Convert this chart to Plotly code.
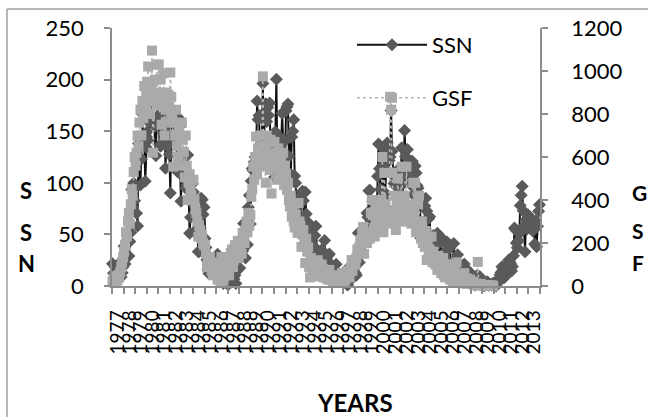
import plotly.graph_objects as go

# Year labels along the category axis
years = list(range(1977, 2014))

# Monthly sunspot number (left axis), Jan 1977 .. Dec 2013
ssn = [
    21.6, 12.4, 7.8, 18.0, 5.6, 16.3, 13.9,
    16.4, 23.1, 8.7, 12.9, 18.6, 38.5, 21.4, 30.1, 44.0, 43.8, 29.1, 43.2,
    51.9, 93.6, 76.5, 99.7, 82.7, 95.1, 70.4, 58.1, 138.2, 125.1, 97.9, 122.7,
    166.6, 137.5, 138.0, 101.5, 134.4, 149.5, 159.4, 142.2, 188.4, 186.2, 183.3, 176.3,
    159.6, 155.0, 126.2, 164.1, 179.9, 157.3, 136.3, 135.4, 155.0, 164.7, 147.9, 174.4,
    114.0, 141.3, 135.5, 156.4, 127.5, 90.0, 143.8, 158.7, 167.3, 162.4, 137.5, 150.1,
    111.2, 163.6, 153.8, 122.0, 82.2, 110.4, 106.1, 107.6, 118.8, 94.7, 98.1, 127.0,
    84.3, 51.0, 66.5, 80.7, 99.2, 91.1, 82.2, 71.8, 50.3, 55.8, 33.3, 33.4,
    57.0, 85.1, 83.5, 69.4, 76.4, 46.1, 37.4, 25.5, 15.7, 12.0, 22.8, 18.7,
    16.5, 15.9, 17.2, 16.2, 27.5, 24.2, 30.7, 11.1, 3.9, 18.6, 16.2, 17.3,
    2.5, 23.2, 15.1, 18.5, 13.7, 1.1, 18.1, 7.4, 3.8, 35.4, 15.2, 6.8,
    10.4, 2.4, 14.7, 39.6, 33.0, 17.4, 33.0, 38.7, 33.9, 60.6, 39.9, 27.1,
    59.0, 40.0, 76.2, 88.0, 60.1, 101.8, 113.8, 111.6, 120.1, 125.1, 125.1, 179.2,
    161.3, 165.1, 131.4, 130.5, 138.5, 196.2, 126.9, 168.9, 176.7, 159.4, 173.0, 165.5,
    177.3, 130.5, 140.3, 140.3, 132.2, 105.4, 149.4, 200.3, 125.2, 145.5, 131.4, 129.7,
    136.9, 167.5, 141.9, 140.0, 121.3, 169.7, 173.7, 176.3, 125.8, 144.1, 108.2, 144.4,
    150.0, 161.1, 106.7, 99.8, 73.8, 65.2, 85.7, 64.5, 63.9, 88.7, 91.8, 82.6,
    59.3, 91.0, 69.8, 62.2, 61.3, 49.8, 57.9, 42.2, 22.4, 56.4, 35.6, 48.9,
    57.8, 35.5, 31.7, 16.1, 17.8, 28.0, 35.1, 22.5, 25.7, 44.0, 18.0, 26.2,
    24.2, 29.9, 31.1, 14.0, 14.5, 15.6, 14.5, 14.3, 11.8, 21.1, 9.0, 10.0,
    11.5, 4.4, 9.2, 4.8, 5.5, 11.8, 8.2, 14.4, 1.6, 0.9, 17.9, 13.3,
    5.7, 7.6, 8.7, 15.5, 18.5, 12.7, 10.4, 24.4, 51.3, 22.8, 39.0, 41.2,
    31.9, 40.3, 54.8, 53.4, 56.3, 70.7, 66.6, 92.2, 92.9, 55.5, 74.0, 81.9,
    62.0, 66.3, 68.8, 63.7, 106.4, 137.7, 113.5, 93.7, 71.5, 116.7, 133.2, 84.6,
    90.1, 112.9, 138.5, 125.5, 121.6, 124.9, 170.1, 130.5, 109.7, 99.4, 106.8, 104.4,
    95.6, 80.6, 113.5, 107.7, 96.6, 134.0, 81.8, 106.4, 150.7, 125.5, 106.5, 132.2,
    114.1, 107.4, 98.4, 120.7, 120.8, 88.3, 99.6, 116.4, 109.6, 97.5, 95.0, 81.6,
    79.5, 46.2, 61.5, 60.0, 55.2, 77.4, 85.0, 72.7, 48.8, 65.5, 67.3, 46.5,
    37.2, 46.0, 48.9, 39.3, 41.5, 43.2, 51.1, 40.9, 27.7, 48.0, 43.5, 17.9,
    31.3, 29.2, 24.5, 24.4, 42.7, 39.3, 40.0, 36.8, 22.1, 8.5, 18.0, 41.2,
    15.3, 4.9, 10.6, 30.2, 22.3, 13.9, 12.2, 12.9, 14.4, 10.5, 21.4, 13.6,
    16.8, 10.7, 4.5, 3.4, 11.7, 12.1, 9.7, 6.0, 2.4, 0.9, 1.7, 10.1,
    3.3, 2.1, 9.3, 2.9, 2.9, 3.1, 0.5, 0.5, 1.1, 2.9, 4.1, 0.8,
    1.5, 1.4, 0.7, 1.2, 2.9, 2.6, 3.5, 0.0, 4.2, 4.6, 4.2, 10.6,
    13.1, 18.6, 15.4, 7.9, 8.8, 13.5, 16.1, 19.6, 25.2, 23.5, 21.6, 14.5,
    19.0, 29.4, 56.2, 54.4, 41.6, 37.0, 43.9, 50.6, 78.0, 88.0, 96.7, 73.0,
    58.3, 33.1, 64.2, 55.2, 69.0, 64.5, 66.5, 63.0, 61.4, 53.3, 61.8, 40.8,
    62.9, 38.1, 57.9, 72.4, 78.7,
]

# Monthly GSF counts (right axis), Jan 1977 .. Dec 2009
gsf = [
    20, 35, 15, 45, 30, 25, 50, 40, 65, 88, 110, 135,
    160, 190, 250, 230, 300, 340, 290, 380, 450, 420, 530, 600,
    560, 620, 700, 650, 760, 820, 700, 860, 780, 930, 840, 900,
    950, 1021, 880, 800, 920, 1095, 620, 860, 960, 900, 1030, 840,
    1030, 880, 960, 750, 835, 990, 700, 900, 820, 760, 890, 835,
    993, 880, 787, 555, 760, 700, 820, 650, 600, 720, 690, 560,
    760, 680, 624, 505, 700, 560, 400, 480, 520, 450, 420, 494,
    494, 400, 355, 340, 300, 229, 280, 260, 240, 220, 200, 190,
    190, 150, 88, 120, 88, 135, 100, 70, 50, 110, 80, 90,
    60, 30, 90, 40, 15, 135, 70, 25, 45, 110, 60, 80,
    90, 50, 130, 150, 170, 88, 120, 190, 140, 160, 210, 130,
    205, 180, 150, 247, 230, 200, 260, 300, 250, 340, 280, 330,
    415, 450, 555, 494, 600, 695, 520, 640, 555, 600, 700, 650,
    975, 600, 650, 480, 700, 560, 620, 540, 680, 430, 600, 580,
    670, 600, 560, 494, 640, 520, 610, 580, 500, 620, 470, 560,
    520, 447, 480, 400, 370, 420, 322, 350, 300, 272, 330, 290,
    247, 386, 300, 280, 182, 240, 260, 200, 107, 220, 160, 180,
    88, 40, 130, 100, 60, 110, 70, 50, 90, 120, 45, 80,
    70, 100, 80, 40, 60, 50, 35, 45, 30, 75, 28, 40,
    30, 14, 25, 18, 20, 40, 22, 50, 15, 14, 60, 35,
    20, 25, 35, 56, 70, 45, 40, 80, 121, 70, 100, 110,
    100, 130, 170, 160, 180, 214, 200, 250, 275, 150, 210, 230,
    200, 250, 240, 220, 340, 400, 330, 260, 230, 300, 380, 290,
    300, 368, 340, 400, 600, 250, 526, 380, 330, 290, 350, 310,
    880, 820, 526, 354, 300, 420, 260, 380, 500, 340, 300, 390,
    555, 368, 330, 420, 310, 555, 300, 350, 380, 310, 290, 340,
    480, 340, 480, 250, 300, 380, 420, 260, 220, 300, 200, 250,
    182, 256, 121, 200, 150, 170, 140, 230, 110, 160, 130, 100,
    120, 75, 140, 90, 110, 60, 80, 130, 50, 40, 70, 100,
    50, 100, 30, 80, 60, 20, 45, 70, 35, 110, 40, 30,
    30, 50, 20, 40, 15, 60, 25, 10, 35, 20, 15, 30,
    20, 10, 15, 5, 8, 12, 4, 112, 6, 3, 10, 5,
    2, 4, 1, 3, 0, 2, 5, 1, 0, 3, 2, 0,
]

FONT = "Lato"
AXIS_GREY = "#8c8c8c"

# Each monthly value sits inside its year's band on the axis
x_ssn = [years[0] + (i + 0.5) / 12 for i in range(len(ssn))]
x_gsf = [years[0] + (i + 0.5) / 12 for i in range(len(gsf))]

fig = go.Figure()
fig.add_trace(go.Scatter(
    x=x_ssn, y=ssn, name="SSN", mode="lines+markers",
    line=dict(color="#111111", width=2),
    marker=dict(symbol="diamond", size=10, color="#5a5a5a"),
    cliponaxis=False, legend="legend",
))
fig.add_trace(go.Scatter(
    x=x_gsf, y=gsf, name="GSF", mode="lines+markers", yaxis="y2",
    line=dict(color="#b5b5b5", width=1.5, dash="dot"),
    marker=dict(symbol="square", size=10, color="#aaaaaa"),
    cliponaxis=False, legend="legend2",
))

L, R, T, B, W, H = 112, 108, 28, 131, 648, 417
pw, ph = W - L - R, H - T - B


def px(xp):
    return (xp - L) / pw


def py(yp):
    return (H - B - yp) / ph


fig.update_layout(
    width=W, height=H,
    margin=dict(l=L, r=R, t=T, b=B),
    paper_bgcolor="white", plot_bgcolor="white",
    font=dict(family=FONT, size=22, color="black"),
    xaxis=dict(
        range=[years[0], years[-1] + 1],
        tickmode="array", tickvals=[y + 0.5 for y in years],
        ticktext=[str(y) for y in years], tickangle=-90,
        ticks="", ticklen=0, tickfont=dict(size=19),
        showline=True, linecolor=AXIS_GREY, linewidth=1.5,
        showgrid=False, zeroline=False,
        minor=dict(tickvals=years + [years[-1] + 1], ticks="outside",
                   ticklen=6, tickcolor=AXIS_GREY, tickwidth=1.5, showgrid=False),
        ticklabelstandoff=15,
    ),
    yaxis=dict(
        range=[0, 250], dtick=50, ticks="outside", ticklen=6,
        tickcolor=AXIS_GREY, tickwidth=1.5, tickfont=dict(size=22),
        showline=True, linecolor=AXIS_GREY, linewidth=1.5,
        showgrid=False, zeroline=False, ticklabelstandoff=16,
    ),
    yaxis2=dict(
        range=[0, 1200], dtick=200, overlaying="y", side="right",
        ticks="outside", ticklen=6, tickcolor=AXIS_GREY, tickwidth=1.5,
        tickfont=dict(size=22),
        showline=True, linecolor=AXIS_GREY, linewidth=1.5,
        showgrid=False, zeroline=False, ticklabelstandoff=19,
    ),
    legend=dict(x=px(352), y=py(45), xanchor="left", yanchor="middle",
                bgcolor="rgba(0,0,0,0)", itemwidth=70, font=dict(size=22)),
    legend2=dict(x=px(352), y=py(98), xanchor="left", yanchor="middle",
                 bgcolor="rgba(0,0,0,0)", itemwidth=70, font=dict(size=22)),
    showlegend=True,
)

# Chart frame
fig.add_shape(type="line", xref="paper", yref="paper",
              x0=px(7), x1=px(700), y0=py(9), y1=py(9),
              line=dict(color="#a0a0a0", width=1.5))
fig.add_shape(type="line", xref="paper", yref="paper",
              x0=px(7), x1=px(7), y0=py(9), y1=py(450),
              line=dict(color="#a0a0a0", width=1.5))

# Stacked axis titles
for ch, yc in zip("SSN", [190, 232, 263]):
    fig.add_annotation(text="<b>%s</b>" % ch, xref="paper", yref="paper",
                       x=px(26), y=py(yc), xanchor="center", yanchor="middle",
                       showarrow=False, font=dict(size=22, family=FONT))
for ch, yc in zip("GSF", [192, 230, 262]):
    fig.add_annotation(text="<b>%s</b>" % ch, xref="paper", yref="paper",
                       x=px(630), y=py(yc), xanchor="left", yanchor="middle",
                       showarrow=False, font=dict(size=21, family=FONT))
fig.add_annotation(text="<b>YEARS</b>", xref="paper", yref="paper",
                   x=px(355), y=py(402), xanchor="center", yanchor="middle",
                   showarrow=False, font=dict(size=24, family=FONT))

fig.write_html("out.html")
